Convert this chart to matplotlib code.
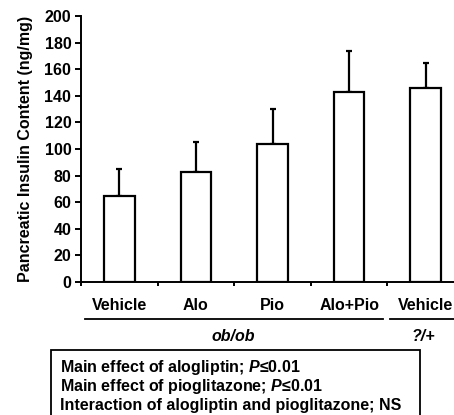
import matplotlib
matplotlib.use("Agg")
import matplotlib.pyplot as plt
from matplotlib.lines import Line2D
from matplotlib.patches import Rectangle

plt.rcParams['font.family'] = ['Liberation Sans', 'DejaVu Sans']
plt.rcParams['font.weight'] = 'bold'
plt.rcParams['mathtext.fontset'] = 'custom'
plt.rcParams['mathtext.it'] = 'Liberation Sans:italic:bold'
plt.rcParams['mathtext.rm'] = 'Liberation Sans:bold'

# --------------------------------------------------
# Data
# --------------------------------------------------

categories = ["Vehicle", "Alo", "Pio", "Alo+Pio", "Vehicle"]
insulin = [65, 83, 104, 143, 146]
sem = [20, 22, 26, 31, 19]
groups = ["ob/ob", "?/+"]
stats_lines = [
    r"Main effect of alogliptin; $P$≤0.01",
    r"Main effect of pioglitazone; $P$≤0.01",
    "Interaction of alogliptin and pioglitazone; NS",
]

W, H = 454, 415
FS = 11.5


def fx(x):
    return x / W


def fy(y):
    return 1 - y / H


fig = plt.figure(figsize=(W / 100, H / 100), dpi=100)
ax = fig.add_axes([fx(81), fy(282), (464 - 81) / W, (282 - 16) / H])

pos = [i + 0.5 for i in range(len(categories))]
ax.bar(pos, insulin, width=0.4, color="white", edgecolor="black", linewidth=1.6, zorder=2)
ax.errorbar(pos, insulin, yerr=[[0] * len(sem), sem], fmt="none", ecolor="black",
            elinewidth=1.6, capsize=2.5, capthick=1.6, zorder=1)

ax.set_xlim(0, 5)
ax.set_ylim(0, 200)
ax.set_yticks(range(0, 201, 20))
ax.set_xticks(range(0, 6))
ax.set_xticklabels([])
ax.tick_params(axis="y", direction="out", length=4, width=1.4, labelsize=FS, pad=3)
ax.tick_params(axis="x", direction="out", length=3, width=1.4)
for s in ["top", "right"]:
    ax.spines[s].set_visible(False)
for s in ["left", "bottom"]:
    ax.spines[s].set_linewidth(1.4)
for lab in ax.get_yticklabels():
    lab.set_fontweight("bold")

ax.set_ylabel("Pancreatic Insulin Content (ng/mg)", fontsize=FS, fontweight="bold", labelpad=8)

# category labels under axis
for p, c in zip(pos, categories):
    xp = 81 + p * 76.6
    fig.text(fx(xp), fy(305), c, ha="center", va="center", fontsize=FS, fontweight="bold")

# group underlines and labels
fig.add_artist(Line2D([fx(85), fx(383)], [fy(319), fy(319)], color="black", lw=1.3))
fig.add_artist(Line2D([fx(390), fx(460)], [fy(319), fy(319)], color="black", lw=1.3))
fig.text(fx(233), fy(336), groups[0], ha="center", va="center", fontsize=FS,
         fontweight="bold", style="italic")
fig.text(fx(423), fy(336), groups[1], ha="center", va="center", fontsize=FS,
         fontweight="bold", style="italic")

# stats box
fig.add_artist(Rectangle((fx(51), fy(420)), (420 - 51) / W, (420 - 350) / H,
                         fill=False, edgecolor="black", lw=1.3))
for i, line in enumerate(stats_lines):
    fig.text(fx(60), fy(367 + i * 19), line, ha="left", va="center", fontsize=FS,
             fontweight="bold")

fig.savefig("out.png", dpi=100)
